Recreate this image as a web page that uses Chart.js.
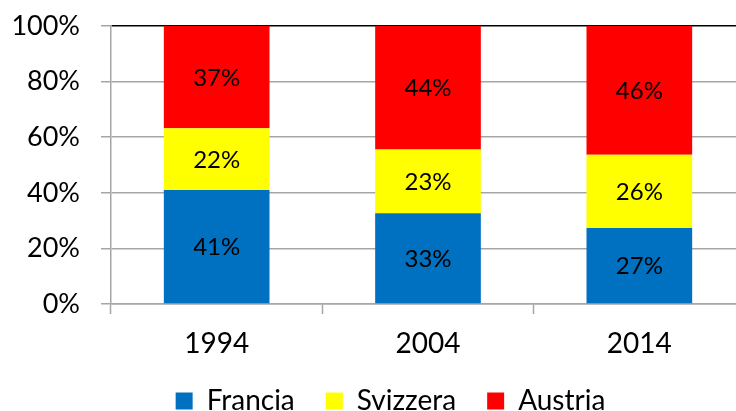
<!DOCTYPE html>
<html>
<head>
<meta charset="utf-8">
<script src="https://cdn.jsdelivr.net/npm/chart.js@4/dist/chart.umd.min.js"></script>
<style>
  html, body { margin: 0; padding: 0; background: #fff; overflow: hidden; }
  #wrap { position: absolute; left: 0; top: 0; }
</style>
</head>
<body>
<div id="wrap">
  <canvas id="myChart" width="780" height="425"></canvas>
</div>
<script>
// data (share of total, %)
const years = ["1994", "2004", "2014"];
const francia = [41.0, 32.6, 27.3];
const svizzera = [22.2, 23.0, 26.4];
const austria = [36.8, 44.4, 46.3];
const yTicks = [0, 20, 40, 60, 80, 100];

const gridGray = "#a6a6a6";
const font = "Lato";

// percent labels in the middle of each block
const barLabels = {
  id: "barLabels",
  afterDatasetsDraw(chart) {
    const ctx = chart.ctx;
    ctx.save();
    ctx.font = "24px " + font;
    ctx.fillStyle = "#000";
    ctx.textAlign = "center";
    ctx.textBaseline = "middle";
    chart.data.datasets.forEach((ds, i) => {
      const meta = chart.getDatasetMeta(i);
      meta.data.forEach((bar, j) => {
        const p = bar.getProps(["x", "y", "base"], true);
        ctx.fillText(Math.round(ds.data[j]) + "%", p.x, (p.y + p.base) / 2 + 1);
      });
    });
    ctx.restore();
  }
};

// legend sits a bit right of centre in the original
const moveLegend = {
  id: "moveLegend",
  afterLayout(chart) {
    chart.legend.left += 18;
    chart.legend.right += 18;
  }
};

new Chart(document.getElementById("myChart").getContext("2d"), {
  type: "bar",
  data: {
    labels: years,
    datasets: [
      { label: "Francia", data: francia, backgroundColor: "#0070c0" },
      { label: "Svizzera", data: svizzera, backgroundColor: "#ffff00" },
      { label: "Austria", data: austria, backgroundColor: "#ff0000" }
    ]
  },
  options: {
    responsive: false,
    animation: false,
    barPercentage: 0.5,
    categoryPercentage: 1.0,
    layout: { padding: { left: 0, right: 35, top: 26, bottom: 0 } },
    plugins: {
      tooltip: { enabled: false },
      legend: {
        position: "bottom",
        labels: {
          color: "#000",
          font: { family: font, size: 28 },
          boxWidth: 17,
          boxHeight: 17,
          padding: 31
        }
      }
    },
    scales: {
      x: {
        stacked: true,
        grid: {
          offset: true,
          drawOnChartArea: false,
          tickLength: 10,
          tickColor: gridGray,
          tickWidth: 1.5
        },
        border: { color: gridGray, width: 1.5 },
        ticks: { color: "#000", font: { family: font, size: 28 }, padding: 13 },
        afterFit(scale) { scale.height = 52; }
      },
      y: {
        stacked: true,
        min: 0,
        max: 100,
        afterBuildTicks(scale) { scale.ticks = yTicks.map(v => ({ value: v })); },
        grid: {
          color: ctx => (ctx.tick && ctx.tick.value === 100 ? "#000" : gridGray),
          tickColor: gridGray,
          lineWidth: 1.5,
          tickLength: 10
        },
        border: { color: gridGray, width: 1.5 },
        ticks: {
          color: "#000",
          font: { family: font, size: 27 },
          padding: 21,
          callback: v => v + "%"
        },
        afterFit(scale) {
          scale.width = 111;
          scale.paddingTop = 0;
          scale.paddingBottom = 0;
        }
      }
    }
  },
  plugins: [barLabels, moveLegend]
});
</script>
</body>
</html>
